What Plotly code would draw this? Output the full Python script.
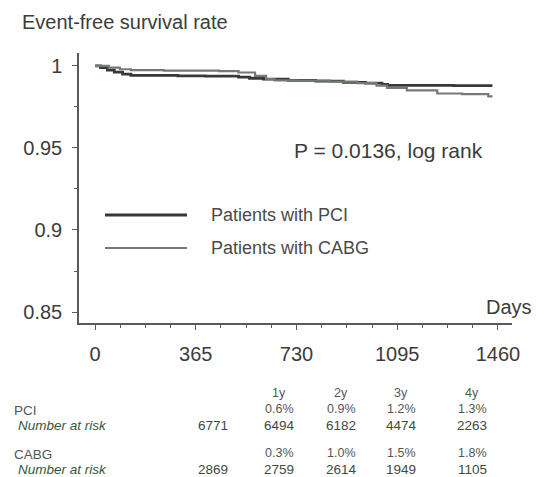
import plotly.graph_objects as go

# ---------------- data ----------------
pci_days = [0, 20, 45, 70, 100, 130, 300, 400, 520, 560, 610, 700, 800, 900, 980, 1040, 1060, 1300, 1440]
pci_surv = [1.0, 0.9990, 0.9975, 0.9962, 0.9950, 0.9942, 0.9940, 0.9938, 0.9932, 0.9925, 0.9920,
            0.9912, 0.9908, 0.9900, 0.9895, 0.9888, 0.9882, 0.9880, 0.9880]

cabg_days = [0, 50, 90, 130, 250, 450, 520, 580, 620, 650, 730, 850, 950, 1020, 1058, 1130, 1240, 1330, 1425, 1440]
cabg_surv = [1.0, 0.9990, 0.9980, 0.9975, 0.9972, 0.9968, 0.9960, 0.9940, 0.9920, 0.9912, 0.9910,
             0.9905, 0.9895, 0.9880, 0.9867, 0.9851, 0.9832, 0.9828, 0.9814, 0.9814]

x_ticks = [0, 365, 730, 1095, 1460]
y_ticks = [0.85, 0.9, 0.95, 1.0]
y_tick_labels = ["0.85", "0.9", "0.95", "1"]

series_names = ["Patients with PCI", "Patients with CABG"]
table_years = ["1y", "2y", "3y", "4y"]
pci_event_pct = ["0.6%", "0.9%", "1.2%", "1.3%"]
pci_at_risk = ["6771", "6494", "6182", "4474", "2263"]
cabg_event_pct = ["0.3%", "1.0%", "1.5%", "1.8%"]
cabg_at_risk = ["2869", "2759", "2614", "1949", "1105"]

# ---------------- layout helpers ----------------
# The page body has an 8px default margin, so the figure is drawn 8px smaller
# and all reference pixel positions are shifted by that offset.
OFF = 8
W, H = 545, 477
L, R, T, B = 79, 512, 53, 323


def px(x):
    return (x - L) / (R - L)


def py(y):
    return (B - y) / (B - T)


FONT = "Liberation Sans, Arial, sans-serif"
AX = "#5a5a5a"
PCI_COL = "#383838"
CABG_COL = "#747a74"
TXT = "#3c3c3c"
GREEN = "#35573f"

fig = go.Figure()
fig.add_trace(go.Scatter(x=pci_days, y=pci_surv, mode="lines", line_shape="hv",
                         line=dict(color=PCI_COL, width=2.8), name=series_names[0],
                         showlegend=False))
fig.add_trace(go.Scatter(x=cabg_days, y=cabg_surv, mode="lines", line_shape="hv",
                         line=dict(color=CABG_COL, width=2.2), name=series_names[1],
                         showlegend=False))

fig.update_layout(
    width=W - OFF, height=H - OFF,
    margin=dict(l=L - OFF, r=W - R, t=T - OFF, b=H - B),
    paper_bgcolor="white", plot_bgcolor="white",
    font=dict(family=FONT, color=TXT),
    showlegend=False,
)
fig.update_xaxes(range=[-58, 1511], tickvals=x_ticks, showgrid=False, zeroline=False,
                 showline=True, linecolor=AX, linewidth=1.5, ticks="outside", ticklen=5,
                 tickcolor=AX, tickwidth=1.2, tickfont=dict(size=20, color=TXT),
                 ticklabelstandoff=7,
                 minor=dict(dtick=91.25, tick0=0, ticks="outside", ticklen=3, tickcolor=AX))
fig.update_yaxes(range=[0.8433, 1.0079], tickvals=y_ticks, ticktext=y_tick_labels,
                 showgrid=False, zeroline=False,
                 showline=True, linecolor=AX, linewidth=1.5, ticks="outside", ticklen=5,
                 tickcolor=AX, tickwidth=1.2, tickfont=dict(size=20, color=TXT),
                 ticklabelstandoff=6,
                 minor=dict(dtick=0.025, tick0=0.85, ticks="outside", ticklen=3, tickcolor=AX))

ann = []
# title
ann.append(dict(text="Event-free survival rate", x=px(20), y=py(22), xref="paper", yref="paper",
                xanchor="left", yanchor="middle", showarrow=False, font=dict(size=20, color=TXT)))
# Days label
ann.append(dict(text="Days", x=px(534), y=py(307), xref="paper", yref="paper",
                xanchor="right", yanchor="middle", showarrow=False, font=dict(size=20, color=TXT)))
# p value
ann.append(dict(text="P = 0.0136, log rank", x=px(292), y=py(150), xref="paper", yref="paper",
                xanchor="left", yanchor="middle", showarrow=False, font=dict(size=21, color=TXT)))

# legend (manual)
shapes = []
leg_y = [215, 248]
leg_cols = [PCI_COL, CABG_COL]
leg_w = [2.8, 2.2]
for name, yy, c, w in zip(series_names, leg_y, leg_cols, leg_w):
    shapes.append(dict(type="line", xref="paper", yref="paper", x0=px(105), x1=px(187),
                       y0=py(yy), y1=py(yy), line=dict(color=c, width=w)))
    ann.append(dict(text=name, x=px(209), y=py(yy), xref="paper", yref="paper",
                    xanchor="left", yanchor="middle", showarrow=False,
                    font=dict(size=18, color="#4a4a4a")))

# risk table
col_x = [213, 279, 341, 401, 472]
SZ = 13.5
SZ_SMALL = 12.5
for yr, cx in zip(table_years, col_x[1:]):
    ann.append(dict(text=yr, x=px(cx), y=py(393), xref="paper", yref="paper",
                    xanchor="center", yanchor="middle", showarrow=False,
                    font=dict(size=SZ_SMALL, color="#555555")))


def table_block(label, y_label, pct, at_risk, y_risk):
    ann.append(dict(text=label, x=px(12), y=py(y_label), xref="paper", yref="paper",
                    xanchor="left", yanchor="middle", showarrow=False,
                    font=dict(size=SZ, color="#555555")))
    ann.append(dict(text="<i>Number at risk</i>", x=px(16), y=py(y_risk), xref="paper", yref="paper",
                    xanchor="left", yanchor="middle", showarrow=False,
                    font=dict(size=SZ, color=GREEN)))
    for v, cx in zip(pct, col_x[1:]):
        ann.append(dict(text=v, x=px(cx), y=py(y_label - 1), xref="paper", yref="paper",
                        xanchor="center", yanchor="middle", showarrow=False,
                        font=dict(size=SZ_SMALL, color="#555555")))
    for v, cx in zip(at_risk, col_x):
        ann.append(dict(text=v, x=px(cx), y=py(y_risk), xref="paper", yref="paper",
                        xanchor="center", yanchor="middle", showarrow=False,
                        font=dict(size=SZ, color="#3f4a42")))


table_block("PCI", 410, pci_event_pct, pci_at_risk, 425)
table_block("CABG", 454, cabg_event_pct, cabg_at_risk, 469)

fig.update_layout(annotations=ann, shapes=shapes)
fig.write_html("out.html")
